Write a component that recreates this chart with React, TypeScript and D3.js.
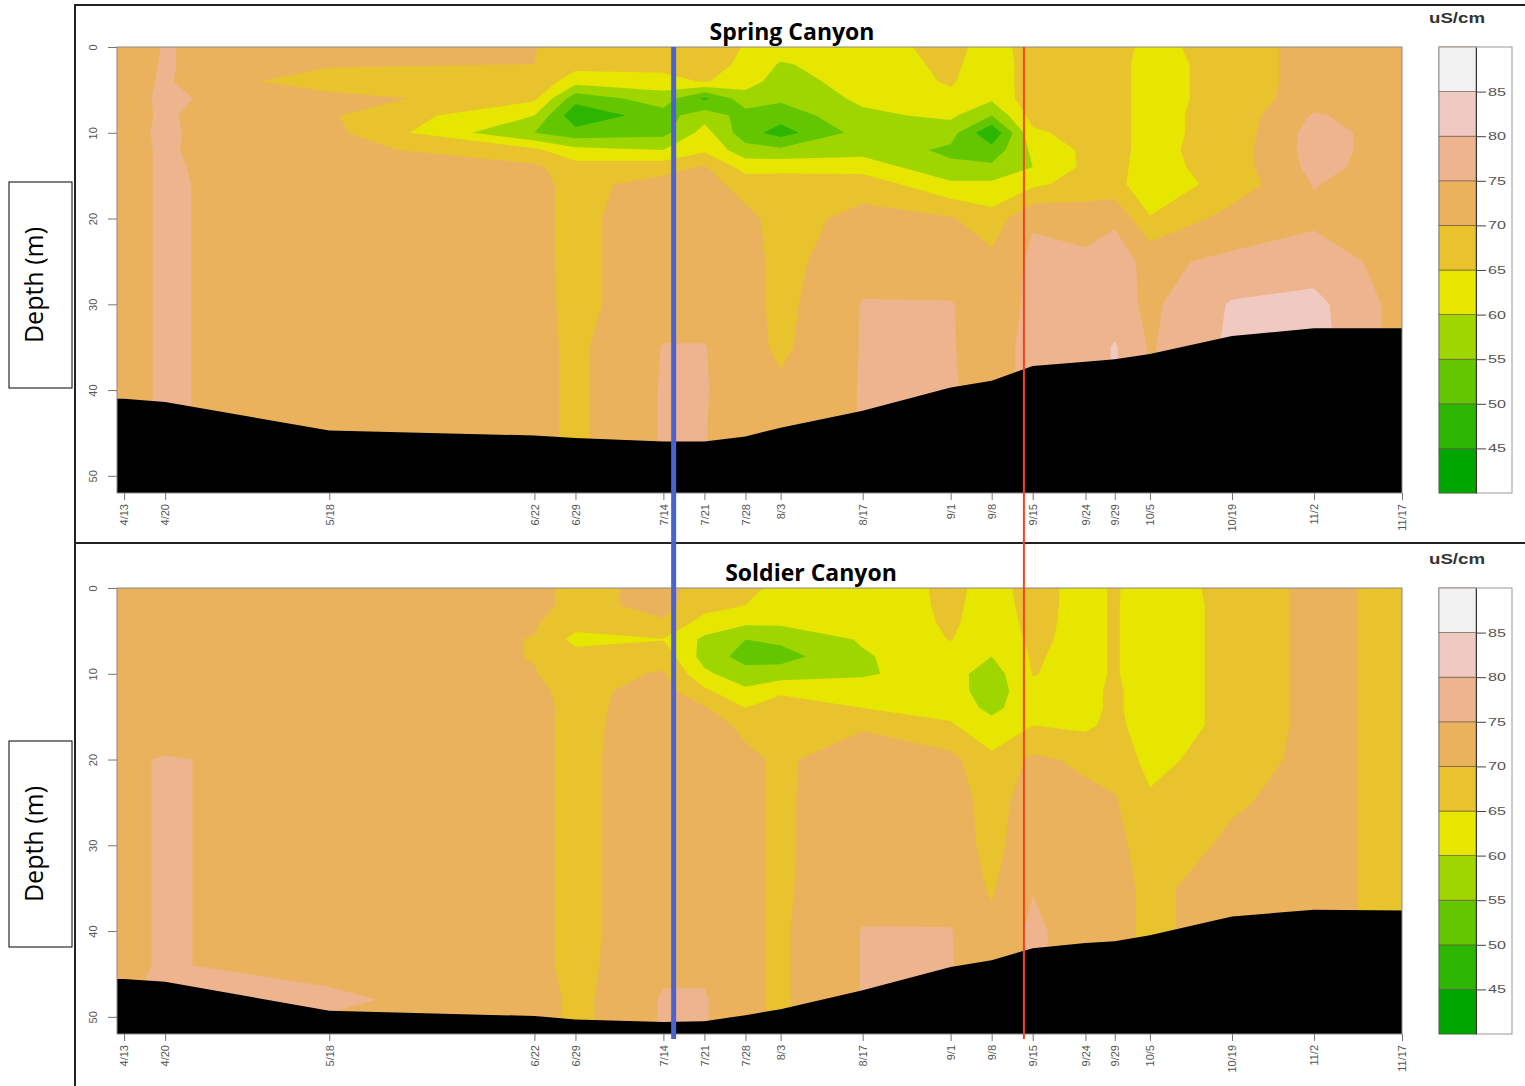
import React, { useEffect, useRef } from "react";
import * as d3 from "d3";

// sampling dates (x axis) and depth rows of the conductivity grid
const dateLabels = ["4/13", "4/20", "5/18", "6/22", "6/29", "7/14", "7/21", "7/28", "8/3", "8/17", "9/1", "9/8", "9/15", "9/24", "9/29", "10/5", "10/19", "11/2", "11/17"];
const depths = [0, 2, 4, 6, 8, 10, 12, 14, 16, 20, 25, 30, 35, 40, 44, 48, 52];
const depthTicks = [0, 10, 20, 30, 40, 50];

// conductivity (uS/cm) profiles, one per date, surface -> bottom
const springProfiles = [
  [73.5, 73.5, 73.5, 74, 74, 74.3, 74.3, 74.3, 74.3, 74.3, 74.3, 74.3, 74.3, 74.3, 74.3, 74.3, 74.3],
  [75.2, 75.3, 75.5, 75.5, 75.4, 75.4, 75.3, 75.3, 75.3, 75.3, 75.3, 75.3, 75.3, 75.3, 75.3, 75.3, 75.3],
  [72, 71, 66, 72.5, 70.5, 71.5, 72, 73, 73.4, 73.4, 73.4, 73.4, 73.4, 73.4, 73.4, 73.4, 73.4],
  [70.2, 70, 69, 66, 60, 55, 66, 71, 71.5, 71.5, 71.5, 71.5, 71.5, 71.5, 71.5, 71.5, 71.5],
  [67.5, 67, 62, 52, 46, 52, 61.5, 67, 68.5, 68.5, 68.5, 68.7, 69, 69, 69, 69, 69],
  [68, 67, 63, 57.5, 53, 53.5, 60, 68, 72, 73.5, 73.5, 73, 75.2, 75.4, 75.4, 75.4, 75.4],
  [67.5, 67, 65.5, 49, 58, 62, 64, 70.5, 72, 72.5, 72.5, 73, 75.2, 75.4, 75.4, 75.4, 75.4],
  [64.7, 64, 62, 58, 53, 52, 57, 63, 68, 71.5, 72, 72, 72, 72, 70, 70, 70],
  [63, 59.5, 58, 56, 52, 48, 56, 63.5, 67.5, 68, 68.5, 68.5, 69, 71, 71, 71, 71],
  [63, 62.5, 62, 61, 59, 57, 58, 63, 68, 71.5, 73, 75.3, 75.3, 75.3, 75.3, 75.3, 75.3],
  [66.5, 66, 65.5, 64, 61, 57, 54, 56, 61, 70.5, 72, 75.3, 75.3, 75.5, 75.5, 75.5, 75.5],
  [63, 62.5, 62, 61, 55, 45.5, 52, 56, 61, 67, 71.5, 72.5, 73, 73, 73, 73, 73],
  [67, 67, 67.5, 68, 67, 64, 61, 60, 64, 74.5, 76, 76, 76.5, 76.5, 76.5, 76.5, 76.5],
  [67.5, 67.5, 67.5, 67.5, 67.5, 67, 66, 66, 67, 73, 76, 76, 77, 77, 77, 77, 77],
  [66.3, 66.3, 66.3, 66.3, 66.3, 66.3, 66.3, 66.3, 66.5, 74.5, 76.5, 77, 80.5, 80.5, 80.5, 80.5, 80.5],
  [64, 63.5, 63.5, 63.5, 63.5, 63.5, 63.5, 63, 62, 65.3, 74, 74, 74.5, 74.5, 74.5, 74.5, 74.5],
  [66.6, 66.6, 66.6, 66.6, 67, 67, 67.5, 67.5, 67, 72, 76, 80.5, 81, 81, 81, 81, 81],
  [72.5, 72.5, 72.5, 73, 75.5, 77, 77, 76.5, 75.2, 74, 77.5, 81.5, 82, 82, 82, 82, 82],
  [72.5, 72.5, 72.5, 72.5, 72.5, 72.5, 72.5, 72.5, 72.5, 72.5, 73, 73, 73, 73, 73, 73, 73],
];

const soldierProfiles = [
  [73.5, 73.5, 73.5, 73.5, 73.5, 73.5, 73.5, 73.5, 73.5, 74.6, 74.6, 74.6, 74.6, 74.6, 74.6, 74.6, 74.6],
  [73.5, 73.5, 73.5, 73.5, 73.5, 73.5, 73.5, 73.5, 73.5, 75.2, 75.2, 75.2, 75.2, 75.2, 75.2, 75.8, 75.8],
  [73.5, 73.5, 73.5, 73.5, 73.5, 73.5, 73.5, 73.5, 73.5, 74, 74, 74, 74, 74, 74, 75.6, 74],
  [71.5, 71.5, 70.5, 69.8, 69.8, 70.2, 71, 71.5, 71.5, 71.5, 71.5, 71.5, 71.5, 71.5, 71.5, 73, 73],
  [68.5, 68.5, 67, 63.5, 67, 68, 68.5, 68.5, 68.5, 68.5, 68.5, 68.5, 68.5, 68.5, 68.5, 68.5, 68.5],
  [71.5, 71.5, 69.5, 64.8, 68, 70.5, 72, 72.5, 73, 73.5, 73.5, 73.5, 73.5, 73.5, 74, 75.5, 75.5],
  [68, 67, 63, 59, 58, 61, 66, 70.5, 72, 72.5, 73, 73, 73, 73.5, 74, 75.5, 75.5],
  [66.5, 65, 61, 55, 53, 57, 61, 65, 69, 71, 71, 71, 71, 71, 71, 71, 71],
  [63.5, 62.5, 61, 56, 53, 57.5, 64, 68, 69, 69.3, 69.3, 69.3, 69.3, 69.3, 69.3, 69.3, 69.3],
  [62, 61.5, 61, 60.5, 59.5, 59.5, 62, 65, 69.5, 72.5, 73, 73, 73.5, 75.2, 75.2, 75.2, 75.2],
  [66, 66, 65.8, 65.2, 63, 62, 62.5, 63.5, 65.5, 71.5, 72.5, 72.5, 73, 75.2, 75.3, 75.3, 75.3],
  [63.5, 63, 62.5, 61.5, 60, 57.5, 57, 58.5, 62, 66, 68, 68.5, 69.5, 71, 72, 72, 72],
  [66.5, 66.5, 66.3, 66, 65.5, 65.2, 64, 63.5, 65, 71, 72.5, 73, 74.8, 76, 76, 76, 76],
  [63.5, 63.5, 63.5, 63.5, 63.5, 63.5, 63.5, 63.5, 64, 69, 71.5, 72, 72.5, 72.5, 72.5, 72.5, 72.5],
  [65.5, 65.5, 65.5, 65.5, 65.5, 65.5, 66, 66, 66.5, 68, 70.5, 71.5, 71, 71, 71, 71, 71],
  [62.5, 62, 62, 62, 62, 62, 62, 62, 62, 63.5, 65.8, 67.5, 69.3, 69.3, 69.3, 69.3, 69.3],
  [66.5, 66.5, 66.5, 66.5, 66.5, 66.5, 66.5, 66.5, 66.5, 67.5, 69.5, 70.8, 71.5, 71.5, 71.5, 71.5, 71.5],
  [71.5, 71.5, 71.5, 71.5, 71.5, 71.5, 71.5, 71.5, 71.5, 71.5, 71.5, 71.5, 71.5, 71.5, 71.5, 71.5, 71.5],
  [68.5, 68.5, 68.5, 68.5, 68.5, 68.5, 68.5, 68.5, 68.5, 68.5, 68.5, 68.5, 68.5, 68.5, 68.5, 68.5, 68.5],
];

// reservoir bottom depth (m) on each date
const springBottom = [41.0, 41.4, 44.7, 45.3, 45.6, 46.0, 46.0, 45.4, 44.4, 42.4, 39.7, 38.9, 37.2, 36.7, 36.4, 35.8, 33.7, 32.8, 32.8];
const soldierBottom = [45.6, 45.9, 49.3, 49.9, 50.3, 50.6, 50.5, 49.8, 49.1, 46.9, 44.2, 43.4, 42.0, 41.4, 41.2, 40.5, 38.3, 37.5, 37.6];

// colour key (terrain palette)
const levels = [40, 45, 50, 55, 60, 65, 70, 75, 80, 85, 90];
const levelColors = ["#00A600", "#2DB600", "#63C600", "#A0D600", "#E6E600", "#E8C32E", "#EBB25E", "#EDB48E", "#F0C9C0", "#F2F2F2"];
const legendTicks = [45, 50, 55, 60, 65, 70, 75, 80, 85];

// the two event lines (blue, red)
const markerDates = ["7/15/2015 18", "9/13/2015 12"];
const markerColors = ["#4a63d2", "#ee4424"];
const markerWidths = [5, 2];

const parseDate = d3.timeParse("%m/%d/%Y %H");
const dates = dateLabels.map((l) => parseDate(`${l}/2015 0`) as Date);
const xStart = parseDate("4/11/2015 19") as Date;

const W = 1525;
const H = 1086;
const plotLeft = 117;
const plotRight = 1402;
const plotH = 446;
const maxDepth = 52;

const panels = [
  { title: "Spring Canyon", titleX: 792, profiles: springProfiles, bottom: springBottom, top: 47, frameTop: 5, frameH: 538, labelTop: 182 },
  { title: "Soldier Canyon", titleX: 811, profiles: soldierProfiles, bottom: soldierBottom, top: 588, frameTop: 543, frameH: 600, labelTop: 741 },
];

const tickFont = "'Liberation Sans', Arial, sans-serif";
const titleFont = "'Open Sans', sans-serif";

export default function App() {
  const svgRef = useRef<SVGSVGElement | null>(null);

  useEffect(() => {
    const svg = d3.select(svgRef.current);
    svg.selectAll("*").remove();

    const x = d3.scaleTime().domain([xStart, dates[dates.length - 1]]).range([plotLeft, plotRight]);
    const nx = dates.length;
    const ny = depths.length;

    svg.append("rect").attr("width", W).attr("height", H).attr("fill", "#fff");

    panels.forEach((p) => {
      const y = d3.scaleLinear().domain([0, maxDepth]).range([p.top, p.top + plotH]);
      const g = svg.append("g");

      // frame of the panel
      g.append("rect")
        .attr("x", 75).attr("y", p.frameTop)
        .attr("width", 1470).attr("height", p.frameH)
        .attr("fill", "none").attr("stroke", "#222").attr("stroke-width", 2);

      // grid -> pixel: value i sits at i+0.5 in contour space
      const gx = d3.scaleLinear()
        .domain([0, ...dates.map((_, i) => i + 0.5), nx])
        .range([plotLeft, ...dates.map((d) => x(d)), plotRight]);
      const gy = d3.scaleLinear()
        .domain([0, ...depths.map((_, j) => j + 0.5), ny])
        .range([y(0), ...depths.map((d) => y(d)), y(maxDepth)]);

      const values: number[] = [];
      depths.forEach((_, j) => dates.forEach((_, i) => values.push(p.profiles[i][j])));

      const contours = d3.contours().size([nx, ny]).thresholds(levels.slice(0, -1))(values);
      const proj = d3.geoTransform({
        point(px: number, py: number) {
          (this as any).stream.point(gx(px), gy(py));
        },
      });
      const path = d3.geoPath(proj);

      g.selectAll("path.band")
        .data(contours)
        .join("path")
        .attr("class", "band")
        .attr("d", (d: any) => path(d))
        .attr("fill", (_: any, k: number) => levelColors[k]);

      // reservoir bed
      const bed = [{ date: xStart, depth: p.bottom[0] }, ...dates.map((d, i) => ({ date: d, depth: p.bottom[i] }))];
      const area = d3.area<any>()
        .x((d) => x(d.date))
        .y0(y(maxDepth))
        .y1((d) => y(d.depth));
      g.append("path").datum(bed).attr("d", area).attr("fill", "#000");

      g.append("rect")
        .attr("x", plotLeft).attr("y", y(0))
        .attr("width", plotRight - plotLeft).attr("height", plotH)
        .attr("fill", "none").attr("stroke", "#8a8a8a").attr("stroke-width", 1);

      // x axis
      const ax = g.append("g")
        .attr("transform", `translate(0,${y(maxDepth)})`)
        .call(
          d3.axisBottom(x)
            .tickValues(dates)
            .tickFormat((_, i) => dateLabels[i])
            .tickSize(7)
            .tickSizeOuter(0)
        );
      ax.select(".domain").remove();
      ax.attr("font-family", tickFont).attr("font-size", 11);
      ax.selectAll("line").attr("stroke", "#777");
      ax.selectAll("text")
        .attr("transform", "rotate(-90)")
        .attr("x", -11)
        .attr("y", 0)
        .attr("dy", "0.35em")
        .attr("fill", "#555")
        .style("text-anchor", "end");

      // y axis
      const ay = g.append("g")
        .attr("transform", `translate(${plotLeft},0)`)
        .call(d3.axisLeft(y).tickValues(depthTicks).tickSize(9).tickSizeOuter(0));
      ay.select(".domain").remove();
      ay.attr("font-family", tickFont).attr("font-size", 11);
      ay.selectAll("line").attr("stroke", "#777");
      ay.selectAll("text")
        .attr("transform", "rotate(-90)")
        .attr("x", 0)
        .attr("y", -20)
        .attr("dy", null)
        .attr("fill", "#555")
        .style("text-anchor", "middle");

      // title
      g.append("text")
        .attr("x", p.titleX).attr("y", p.top - 7)
        .attr("text-anchor", "middle")
        .attr("font-family", titleFont).attr("font-weight", 700).attr("font-size", 23)
        .attr("fill", "#000")
        .text(p.title);

      // depth label box
      g.append("rect")
        .attr("x", 9).attr("y", p.labelTop)
        .attr("width", 63).attr("height", 206)
        .attr("fill", "#fff").attr("stroke", "#000").attr("stroke-width", 1);
      g.append("text")
        .attr("transform", `translate(43,${p.labelTop + 103}) rotate(-90)`)
        .attr("text-anchor", "middle")
        .attr("font-family", titleFont).attr("font-size", 25)
        .attr("fill", "#000")
        .text("Depth (m)");

      // colour key
      const ly = d3.scaleLinear().domain([levels[0], levels[levels.length - 1]]).range([y(maxDepth), y(0)]);
      const lg = g.append("g");
      lg.append("rect")
        .attr("x", 1439).attr("y", y(0))
        .attr("width", 73).attr("height", plotH)
        .attr("fill", "#fff").attr("stroke", "#999");
      lg.selectAll("rect.key")
        .data(levelColors)
        .join("rect")
        .attr("class", "key")
        .attr("x", 1439)
        .attr("width", 37)
        .attr("y", (_, k) => ly(levels[k + 1]))
        .attr("height", (_, k) => ly(levels[k]) - ly(levels[k + 1]))
        .attr("fill", (c) => c)
        .attr("stroke", "#5b4a3c").attr("stroke-width", 0.8).attr("stroke-opacity", 0.7);
      const la = lg.append("g")
        .attr("transform", "translate(1476,0)")
        .call(d3.axisRight(ly).tickValues(legendTicks).tickSize(10).tickSizeOuter(0));
      la.attr("font-family", tickFont).attr("font-size", 11);
      la.select(".domain").attr("stroke", "#333");
      la.selectAll("line").attr("stroke", "#444");
      la.selectAll("text")
        .attr("x", 12)
        .attr("fill", "#555")
        .attr("textLength", 18)
        .attr("lengthAdjust", "spacingAndGlyphs");
      lg.append("text")
        .attr("x", 1457).attr("y", p.top - 24)
        .attr("text-anchor", "middle")
        .attr("font-family", tickFont).attr("font-weight", 700).attr("font-size", 14)
        .attr("fill", "#333")
        .attr("textLength", 56).attr("lengthAdjust", "spacingAndGlyphs")
        .text("uS/cm");
    });

    // event lines through both panels
    markerDates.forEach((m, k) => {
      const d = parseDate(m) as Date;
      svg.append("line")
        .attr("x1", x(d)).attr("x2", x(d))
        .attr("y1", panels[0].top).attr("y2", 1039)
        .attr("stroke", markerColors[k])
        .attr("stroke-width", markerWidths[k]);
    });
  }, []);

  return (
    <svg
      ref={svgRef}
      width={W}
      height={H}
      style={{ position: "absolute", left: 0, top: 0, display: "block" }}
    />
  );
}
